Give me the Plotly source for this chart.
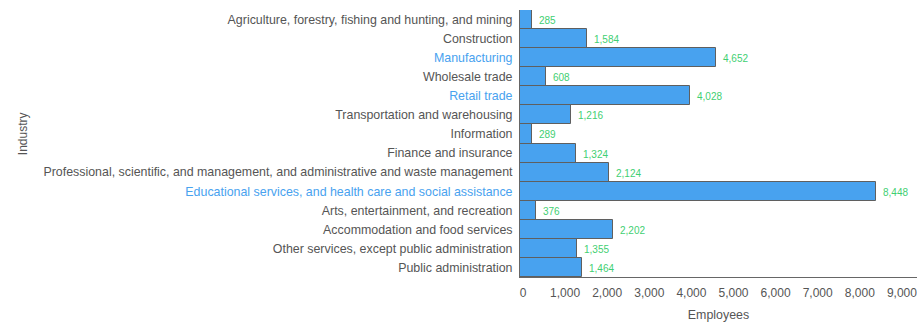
import plotly.graph_objects as go

industries = [
    "Agriculture, forestry, fishing and hunting, and mining",
    "Construction",
    "Manufacturing",
    "Wholesale trade",
    "Retail trade",
    "Transportation and warehousing",
    "Information",
    "Finance and insurance",
    "Professional, scientific, and management, and administrative and waste management",
    "Educational services, and health care and social assistance",
    "Arts, entertainment, and recreation",
    "Accommodation and food services",
    "Other services, except public administration",
    "Public administration",
]
employees = [285, 1584, 4652, 608, 4028, 1216, 289, 1324, 2124, 8448, 376, 2202, 1355, 1464]
highlighted = ["Manufacturing", "Retail trade", "Educational services, and health care and social assistance"]
x_ticks = [0, 1000, 2000, 3000, 4000, 5000, 6000, 7000, 8000, 9000]

BAR = "#48a2ef"
LABEL_GREEN = "#3fcf72"
TEXT_GREY = "#555555"
FONT = "Liberation Sans, Arial, sans-serif"

ticktext = [
    f'<span style="color:{BAR}">{name}</span>' if name in highlighted else name
    for name in industries
]

fig = go.Figure()
fig.add_trace(go.Bar(
    x=employees,
    y=industries,
    orientation="h",
    marker=dict(color=BAR, line=dict(color="#5f5f5f", width=1)),
    hoverinfo="x+y",
))

# value labels just past the end of each bar
for name, val in zip(industries, employees):
    fig.add_annotation(
        x=val, y=name, text=f"{val:,}", showarrow=False,
        xanchor="left", xshift=5, yshift=-1,
        font=dict(family=FONT, size=10, color=LABEL_GREEN),
    )

fig.update_layout(
    width=917, height=322,
    margin=dict(l=520, r=0, t=10, b=45),
    plot_bgcolor="white", paper_bgcolor="white",
    bargap=0,
    showlegend=False,
    font=dict(family=FONT, size=12.4, color=TEXT_GREY),
    xaxis=dict(
        range=[0, 9430],
        tickvals=x_ticks,
        tickformat=",",
        tickfont=dict(size=12),
        showgrid=False, zeroline=False,
        showline=True, linecolor="#666666", linewidth=1,
        ticks="", ticklabelstandoff=5, ticklabelshift=3,
        ticklabeloverflow="allow",
        title=dict(text="Employees", font=dict(size=12.4, color=TEXT_GREY), standoff=12),
    ),
    yaxis=dict(
        categoryorder="array", categoryarray=industries,
        tickvals=industries, ticktext=ticktext,
        autorange="reversed",
        showgrid=False, zeroline=False,
        showline=True, linecolor="#666666", linewidth=1,
        ticks="", ticklabelstandoff=4,
        automargin=False,
    ),
)
fig.add_annotation(
    text="Industry", xref="paper", yref="paper", x=-520 / 397, xshift=14, y=0.535,
    textangle=-90, showarrow=False, xanchor="left", yanchor="middle",
    font=dict(size=12, color=TEXT_GREY),
)

fig.write_html("out.html")
